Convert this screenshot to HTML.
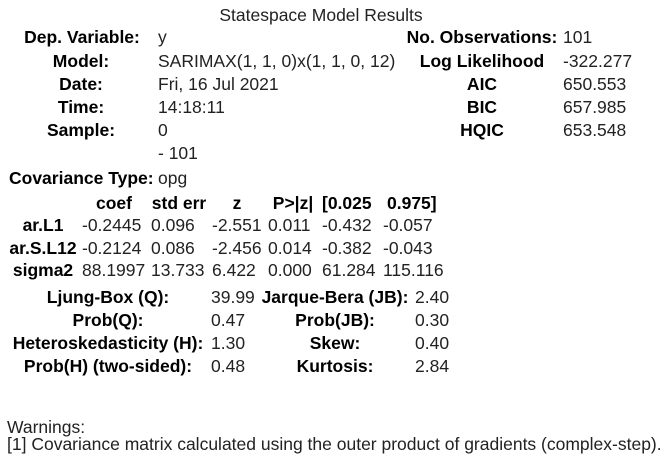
<!DOCTYPE html>
<html><head><style>
body{margin:0;width:669px;height:464px;background:#fff;position:relative;font-family:"Liberation Sans",sans-serif;font-size:17.5px;color:#222;overflow:hidden}
span{position:absolute;line-height:20px;white-space:nowrap}
.b{font-weight:bold;color:#000}
.c{transform:translateX(-50%)}
</style></head><body>
<span class="c" style="left:321px;top:5px">Statespace Model Results</span>

<span class="b c" style="left:82px;top:27px">Dep. Variable:</span><span style="left:158px;top:27px">y</span>
<span class="b c" style="left:81px;top:51px">Model:</span><span style="left:158px;top:51px">SARIMAX(1, 1, 0)x(1, 1, 0, 12)</span>
<span class="b c" style="left:81px;top:74px">Date:</span><span style="left:158px;top:74px">Fri, 16 Jul 2021</span>
<span class="b c" style="left:81px;top:97px">Time:</span><span style="left:158px;top:97px">14:18:11</span>
<span class="b c" style="left:81px;top:120px">Sample:</span><span style="left:158px;top:120px">0</span>
<span style="left:158px;top:143px">- 101</span>

<span class="b c" style="left:482px;top:27px">No. Observations:</span><span style="left:563px;top:27px">101</span>
<span class="b c" style="left:482px;top:51px">Log Likelihood</span><span style="left:563px;top:51px">-322.277</span>
<span class="b c" style="left:482px;top:74px">AIC</span><span style="left:563px;top:74px">650.553</span>
<span class="b c" style="left:482px;top:97px">BIC</span><span style="left:563px;top:97px">657.985</span>
<span class="b c" style="left:482px;top:120px">HQIC</span><span style="left:563px;top:120px">653.548</span>

<span class="b" style="left:9px;top:168px">Covariance Type:</span><span style="left:158px;top:168px">opg</span>

<span class="b c" style="left:114px;top:193px">coef</span>
<span class="b c" style="left:179px;top:193px">std err</span>
<span class="b c" style="left:237px;top:193px">z</span>
<span class="b c" style="left:293px;top:193px">P&gt;|z|</span>
<span class="b" style="left:322px;top:193px">[0.025</span>
<span class="b" style="left:387px;top:193px">0.975]</span>

<span class="b c" style="left:43px;top:215px">ar.L1</span>
<span style="left:82px;top:215px">-0.2445</span><span style="left:151px;top:215px">0.096</span><span style="left:212px;top:215px">-2.551</span><span style="left:268px;top:215px">0.011</span><span style="left:322px;top:215px">-0.432</span><span style="left:383px;top:215px">-0.057</span>
<span class="b c" style="left:43px;top:238px">ar.S.L12</span>
<span style="left:82px;top:238px">-0.2124</span><span style="left:151px;top:238px">0.086</span><span style="left:212px;top:238px">-2.456</span><span style="left:268px;top:238px">0.014</span><span style="left:322px;top:238px">-0.382</span><span style="left:383px;top:238px">-0.043</span>
<span class="b c" style="left:43px;top:260px">sigma2</span>
<span style="left:82px;top:260px">88.1997</span><span style="left:151px;top:260px">13.733</span><span style="left:212px;top:260px">6.422</span><span style="left:268px;top:260px">0.000</span><span style="left:322px;top:260px">61.284</span><span style="left:383px;top:260px">115.116</span>

<span class="b c" style="left:108px;top:287px">Ljung-Box (Q):</span><span style="left:211px;top:287px">39.99</span>
<span class="b c" style="left:108px;top:310px">Prob(Q):</span><span style="left:211px;top:310px">0.47</span>
<span class="b c" style="left:108px;top:333px">Heteroskedasticity (H):</span><span style="left:211px;top:333px">1.30</span>
<span class="b c" style="left:108px;top:356px">Prob(H) (two-sided):</span><span style="left:211px;top:356px">0.48</span>

<span class="b c" style="left:335px;top:287px">Jarque-Bera (JB):</span><span style="left:415px;top:287px">2.40</span>
<span class="b c" style="left:335px;top:310px">Prob(JB):</span><span style="left:415px;top:310px">0.30</span>
<span class="b c" style="left:335px;top:333px">Skew:</span><span style="left:415px;top:333px">0.40</span>
<span class="b c" style="left:335px;top:356px">Kurtosis:</span><span style="left:415px;top:356px">2.84</span>

<span style="left:7px;top:417px">Warnings:</span>
<span style="left:7px;top:434px">[1] Covariance matrix calculated using the outer product of gradients (complex-step).</span>
</body></html>
